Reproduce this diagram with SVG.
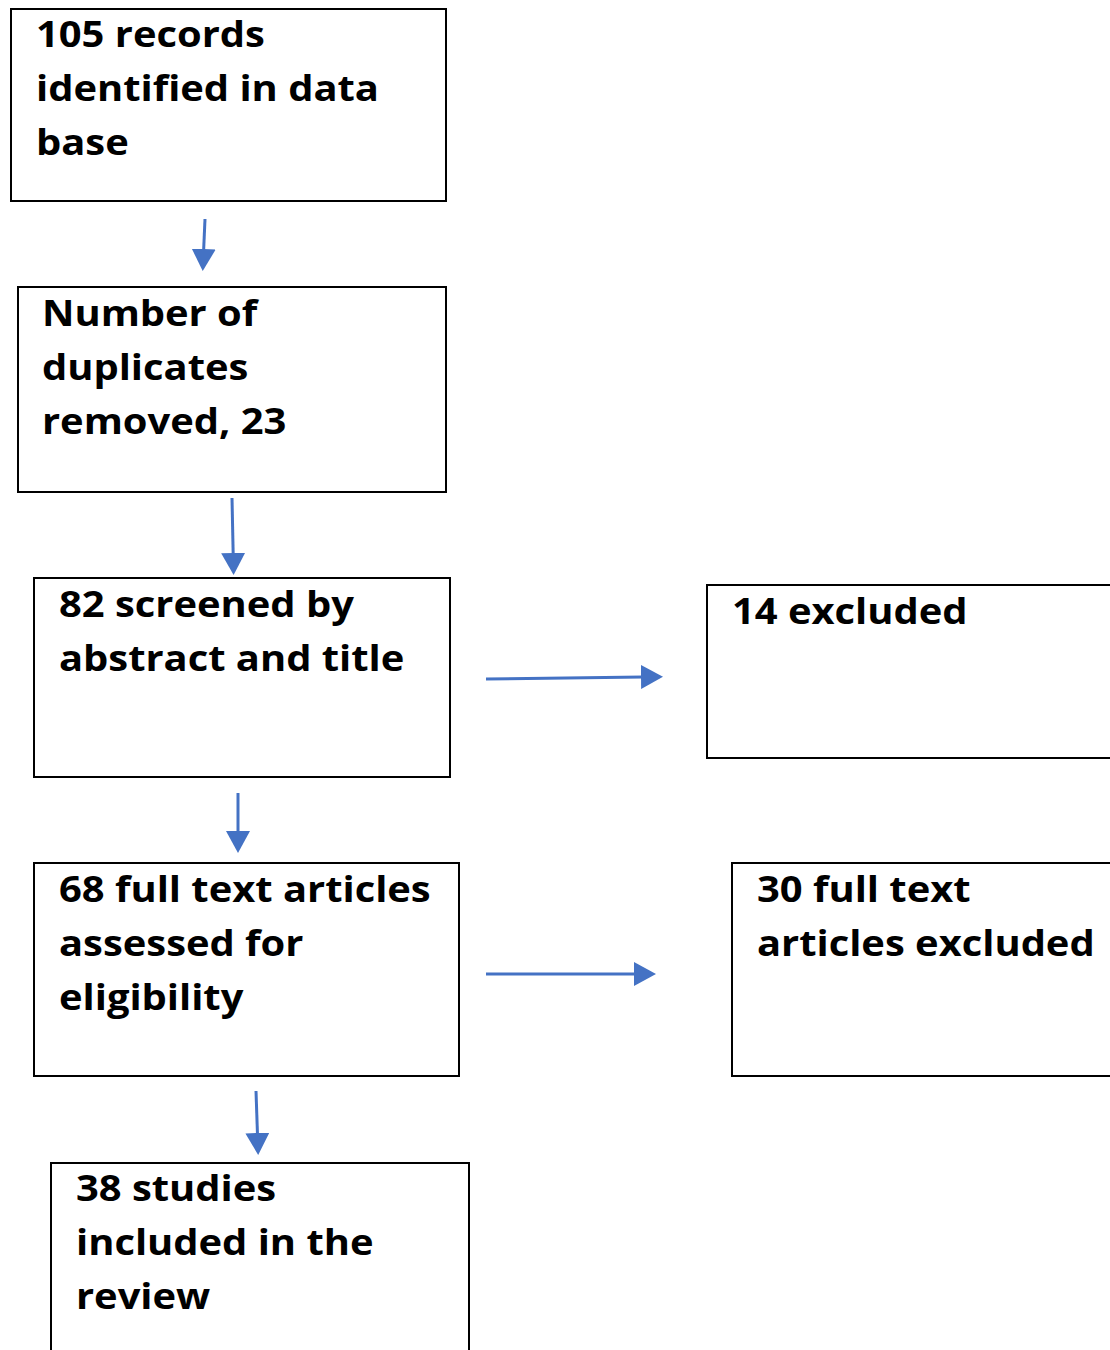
<svg xmlns="http://www.w3.org/2000/svg" width="1110" height="1350" viewBox="0 0 1110 1350">
<style>
.box{fill:#fff;stroke:#000;stroke-width:2}
.t{font-family:"Open Sans","Liberation Sans",sans-serif;font-weight:bold;font-size:35px;fill:#000}
.c{stroke:#4472C4;stroke-width:3;fill:none;marker-end:url(#ah)}
</style>
<defs>
<marker id="ah" viewBox="0 0 22 24" refX="2" refY="12" markerWidth="22" markerHeight="24" markerUnits="userSpaceOnUse" orient="auto">
<path d="M0,0 L22,12 L0,24 z" fill="#4472C4"/>
</marker>
</defs>
<rect width="1110" height="1350" fill="#fff"/>
<g id="n1"><rect class="box" x="11" y="9" width="435" height="192"/>
<g transform="translate(36,0) scale(1.14,1)"><text class="t" x="0" y="47">105 records</text><text class="t" x="0" y="101">identified in data</text><text class="t" x="0" y="155">base</text></g></g>
<g id="n2"><rect class="box" x="18" y="287" width="428" height="205"/>
<g transform="translate(42,0) scale(1.14,1)"><text class="t" x="0" y="326">Number of</text><text class="t" x="0" y="380">duplicates</text><text class="t" x="0" y="434">removed, 23</text></g></g>
<g id="n3"><rect class="box" x="34" y="578" width="416" height="199"/>
<g transform="translate(59,0) scale(1.14,1)"><text class="t" x="0" y="617">82 screened by</text><text class="t" x="0" y="671">abstract and title</text></g></g>
<g id="n4"><rect class="box" x="707" y="585" width="410" height="173"/>
<g transform="translate(732,0) scale(1.14,1)"><text class="t" x="0" y="624">14 excluded</text></g></g>
<g id="n5"><rect class="box" x="34" y="863" width="425" height="213"/>
<g transform="translate(59,0) scale(1.14,1)"><text class="t" x="0" y="902">68 full text articles</text><text class="t" x="0" y="956">assessed for</text><text class="t" x="0" y="1010">eligibility</text></g></g>
<g id="n6"><rect class="box" x="732" y="863" width="385" height="213"/>
<g transform="translate(757,0) scale(1.14,1)"><text class="t" x="0" y="902">30 full text</text><text class="t" x="0" y="956">articles excluded</text></g></g>
<g id="n7"><rect class="box" x="51" y="1163" width="418" height="200"/>
<g transform="translate(76,0) scale(1.14,1)"><text class="t" x="0" y="1201">38 studies</text><text class="t" x="0" y="1255">included in the</text><text class="t" x="0" y="1309">review</text></g></g>
<g id="connectors">
<line class="c" x1="205" y1="219" x2="203.6" y2="251"/>
<line class="c" x1="232" y1="498" x2="233.2" y2="555"/>
<line class="c" x1="486" y1="679" x2="643" y2="677"/>
<line class="c" x1="238" y1="793" x2="238" y2="833"/>
<line class="c" x1="486" y1="974" x2="636" y2="974"/>
<line class="c" x1="256" y1="1091" x2="257.5" y2="1135"/>
</g>
</svg>
